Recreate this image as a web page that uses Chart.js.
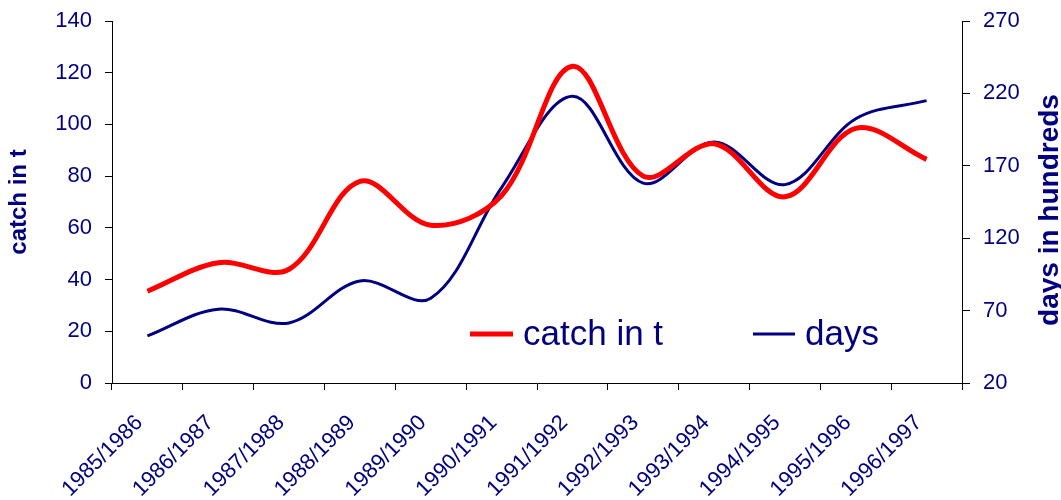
<!DOCTYPE html>
<html>
<head>
<meta charset="utf-8">
<script src="https://cdn.jsdelivr.net/npm/chart.js@4/dist/chart.umd.min.js"></script>
<style>
  html, body { margin: 0; padding: 0; background: #fff; }
  #wrap { width: 1061px; height: 500px; }
</style>
</head>
<body>
<div id="wrap"><canvas id="catch_chart" width="1061" height="500"></canvas></div>
<script>
var seasons = ['1985/1986', '1986/1987', '1987/1988', '1988/1989', '1989/1990', '1990/1991',
               '1991/1992', '1992/1993', '1993/1994', '1994/1995', '1995/1996', '1996/1997'];
var catchData = [35.5, 46.5, 44, 78, 61, 72.5, 122.5, 80, 92.5, 72, 98.5, 86.5];
var daysData = [52.5, 71, 61.5, 90.5, 78.5, 155, 218, 158, 186.5, 157, 202.5, 215];

var navy = '#000080';
var fontFam = 'Arial, "Liberation Sans", sans-serif';

// legend inside the plot + right axis title reading bottom to top
var extras = {
    id: 'extras',
    afterDraw: function(chart) {
        var ctx = chart.ctx;
        var ds = chart.data.datasets;
        ctx.save();
        ctx.font = '35px ' + fontFam;
        ctx.fillStyle = navy;
        ctx.textBaseline = 'middle';
        ctx.textAlign = 'left';
        var items = [{x: 470, w: 43}, {x: 753, w: 42}];
        for (var i = 0; i < ds.length; i++) {
            var y = 334;
            ctx.strokeStyle = ds[i].borderColor;
            ctx.lineWidth = ds[i].borderWidth;
            ctx.beginPath();
            ctx.moveTo(items[i].x, y);
            ctx.lineTo(items[i].x + items[i].w, y);
            ctx.stroke();
            ctx.fillText(ds[i].label, items[i].x + items[i].w + 10, y + 1);
        }
        ctx.font = 'bold 28px ' + fontFam;
        ctx.textAlign = 'center';
        ctx.translate(1050, 210);
        ctx.rotate(-Math.PI / 2);
        ctx.fillText('days in hundreds', 0, 0);
        ctx.restore();
    }
};

// keep the tick padding from pushing the plot area down
function fitY(w) {
    return function(scale) {
        scale.width = w;
        scale.paddingTop = 12;
        scale.paddingBottom = 12;
    };
}

var ctx = document.getElementById('catch_chart').getContext('2d');
var catch_chart = new Chart(ctx, {
    type: 'line',
    data: {
        labels: seasons,
        datasets: [{
            label: 'catch in t',
            data: catchData,
            yAxisID: 'y',
            borderColor: '#FF0000',
            borderWidth: 5,
            pointRadius: 0,
            tension: 0.35,
            fill: false
        }, {
            label: 'days',
            data: daysData,
            yAxisID: 'y1',
            borderColor: navy,
            borderWidth: 3,
            pointRadius: 0,
            tension: 0.35,
            fill: false
        }]
    },
    options: {
        responsive: false,
        animation: false,
        layout: { padding: { top: 21, left: 0, right: 0, bottom: 0 } },
        plugins: {
            legend: { display: false },
            tooltip: { enabled: false }
        },
        scales: {
            x: {
                offset: true,
                grid: { drawOnChartArea: false, drawTicks: true, tickLength: 7, color: '#000', offset: true },
                border: { display: true, color: '#000' },
                ticks: {
                    color: navy,
                    font: { family: fontFam, size: 22 },
                    maxRotation: 45,
                    minRotation: 45,
                    autoSkip: false,
                    padding: 20,
                    labelOffset: -8
                },
                afterFit: function(scale) { scale.height = 117; }
            },
            y: {
                position: 'left',
                min: 0,
                max: 140,
                grid: { drawOnChartArea: false, drawTicks: true, tickLength: 7, color: '#000' },
                border: { display: true, color: '#000' },
                ticks: {
                    stepSize: 20,
                    color: navy,
                    font: { family: fontFam, size: 22 },
                    padding: 13
                },
                title: {
                    display: true,
                    text: 'catch in t',
                    color: navy,
                    font: { family: fontFam, size: 24, weight: 'bold' },
                    padding: { top: 5, bottom: 0 }
                },
                afterFit: fitY(112)
            },
            y1: {
                position: 'right',
                min: 20,
                max: 270,
                grid: { drawOnChartArea: false, drawTicks: true, tickLength: 8, color: '#000' },
                border: { display: true, color: '#000' },
                ticks: {
                    stepSize: 50,
                    color: navy,
                    font: { family: fontFam, size: 22 },
                    padding: 13
                },
                afterFit: fitY(99)
            }
        }
    },
    plugins: [extras]
});
</script>
</body>
</html>
